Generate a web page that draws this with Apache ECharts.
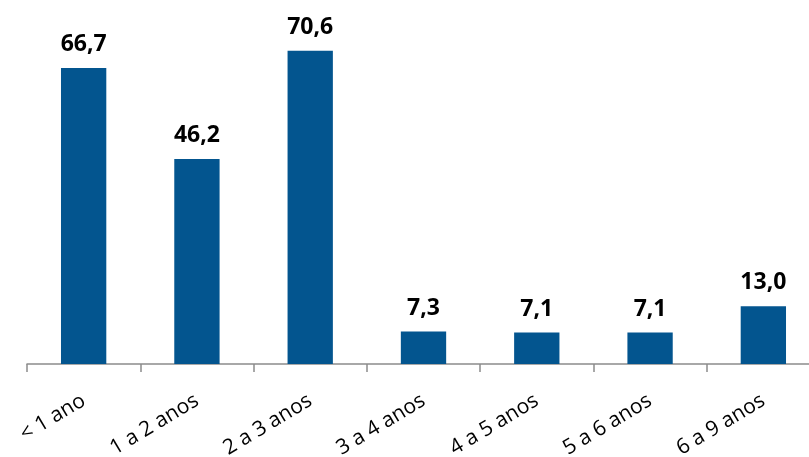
<!DOCTYPE html>
<html><head><meta charset="utf-8">
<script src="https://cdn.jsdelivr.net/npm/echarts@6/dist/echarts.min.js"></script>
<style>html,body{margin:0;padding:0;background:#fff;}#c{width:809px;height:457px;}</style>
</head><body><div id="c"></div>
<script>
var categories = ['< 1 ano','1 a 2 anos','2 a 3 anos','3 a 4 anos','4 a 5 anos','5 a 6 anos','6 a 9 anos'];
var values = [66.7, 46.2, 70.6, 7.3, 7.1, 7.1, 13.0];
var chart = echarts.init(document.getElementById('c'));
chart.setOption({
  animation: false,
  grid: {left: 27, width: 793, top: 9, height: 355, containLabel: false, outerBoundsMode: 'none'},
  xAxis: {
    type: 'category', data: categories,
    axisLine: {lineStyle: {color: '#8c8c8c', width: 1.5}},
    axisTick: {show: true, length: 8, lineStyle: {color: '#8c8c8c', width: 1.5}},
    axisLabel: {rotate: 31, margin: 35, color: '#000', fontSize: 21, fontFamily: 'Open Sans', hideOverlap: false}
  },
  yAxis: {type: 'value', min: 0, max: 80, show: false, splitLine: {show: false}},
  series: [{
    type: 'bar', data: values, barWidth: '40%',
    itemStyle: {color: '#03558F'},
    label: {show: true, position: 'top', distance: 12, color: '#000', fontSize: 23, fontWeight: 'bold', fontFamily: 'Open Sans',
      formatter: function(p){ return p.value.toFixed(1).replace('.', ','); }}
  }]
});
</script></body></html>
